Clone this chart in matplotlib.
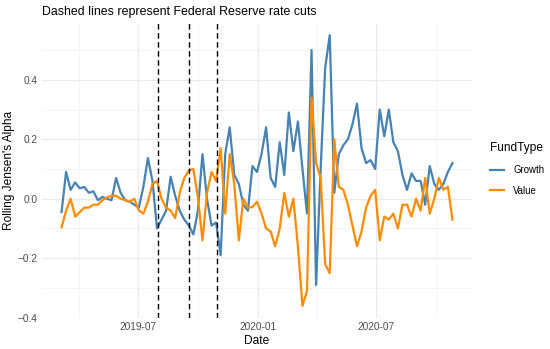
import matplotlib
matplotlib.use('Agg')
import matplotlib.pyplot as plt
import matplotlib.dates as mdates
import pandas as pd

plt.rcParams['font.family'] = ['Liberation Sans', 'DejaVu Sans']

# weekly observations of rolling Jensen's alpha
start_date = '2019-03-05'

growth = [
    -0.045, 0.09, 0.03, 0.055, 0.035, 0.04, 0.02, 0.025, -0.005, 0.006,
    0.0, -0.005, 0.07, 0.02, -0.005, -0.01, -0.02, -0.03, 0.04, 0.137,
    0.06, -0.10, -0.07, -0.04, 0.074, 0.01, -0.04, -0.07, -0.09, -0.12,
    -0.04, 0.15, 0.0, -0.09, -0.08, -0.19, 0.15, 0.24, 0.08, 0.05,
    -0.02, -0.04, 0.11, 0.09, 0.15, 0.24, 0.07, 0.04, 0.19, 0.08,
    0.29, 0.16, 0.26, 0.10, -0.05, 0.50, -0.29, 0.10, 0.44, 0.55,
    0.02, 0.15, 0.18, 0.20, 0.25, 0.32, 0.17, 0.12, 0.13, 0.10,
    0.30, 0.21, 0.30, 0.19, 0.16, 0.08, 0.03, 0.085, 0.06, 0.06,
    -0.02, 0.11, 0.05, 0.03, 0.05, 0.09, 0.12,
]

value = [
    -0.096, -0.04, 0.0, -0.06, -0.045, -0.03, -0.03, -0.02, -0.02, -0.005,
    0.005, 0.01, 0.01, 0.0, -0.005, -0.01, 0.0, -0.04, -0.05, -0.01,
    0.05, 0.06, 0.0, -0.03, -0.04, -0.065, 0.02, 0.07, 0.095, 0.10,
    0.006, -0.14, 0.02, 0.09, 0.06, 0.17, -0.05, 0.15, 0.05, -0.14,
    0.0, -0.03, -0.028, -0.01, -0.05, -0.10, -0.11, -0.16, -0.10, 0.02,
    -0.06, 0.0, -0.16, -0.36, -0.31, 0.34, 0.12, 0.07, -0.22, -0.25,
    0.20, 0.04, 0.03, -0.02, -0.09, -0.16, -0.11, -0.03, 0.01, 0.03,
    -0.14, -0.06, -0.07, -0.05, -0.10, -0.02, -0.02, -0.06, 0.0, -0.04,
    0.07, -0.05, 0.0, 0.07, 0.03, 0.04, -0.07,
]

rate_cuts = ['2019-07-31', '2019-09-18', '2019-10-30']

dates = pd.date_range(start_date, periods=len(growth), freq='W-TUE')

fig = plt.figure(figsize=(5.5, 3.49), dpi=100)
ax = fig.add_axes([42 / 550, 1 - 318 / 349, 430 / 550, 295 / 349])

ax.plot(dates, growth, color='#4682B4', lw=1.6, label='Growth')
ax.plot(dates, value, color='#FF8C00', lw=1.6, label='Value')
for d in rate_cuts:
    ax.axvline(pd.Timestamp(d), color='black', lw=1.0, linestyle=(0, (4, 2.5)))

ax.margins(x=0.05, y=0.045)

ax.xaxis.set_major_locator(mdates.MonthLocator(bymonth=[1, 7]))
ax.xaxis.set_minor_locator(mdates.MonthLocator(bymonth=[4, 10]))
ax.xaxis.set_major_formatter(mdates.DateFormatter('%Y-%m'))
ax.set_yticks([-0.4, -0.2, 0.0, 0.2, 0.4])
ax.set_yticks([-0.3, -0.1, 0.1, 0.3, 0.5], minor=True)
ax.set_yticklabels(['\u22120.4', '\u22120.2', '0.0', '0.2', '0.4'])

ax.grid(True, which='major', color='#EBEBEB', lw=0.9)
ax.grid(True, which='minor', color='#F3F3F3', lw=0.6)
ax.set_axisbelow(True)
for s in ax.spines.values():
    s.set_visible(False)
ax.tick_params(which='both', length=0, labelsize=7.3, colors='#4D4D4D', pad=3)

ax.set_xlabel('Date', fontsize=8.6, labelpad=2)
ax.set_ylabel("Rolling Jensen's Alpha", fontsize=8.6, labelpad=2)
ax.set_title('Dashed lines represent Federal Reserve rate cuts', fontsize=8.9,
             loc='left', pad=6)

leg = fig.legend(loc='center left', bbox_to_anchor=(490 / 550, 1 - 169 / 349),
                 frameon=False, title='FundType', fontsize=6.9,
                 title_fontsize=8.6, handlelength=1.5, handletextpad=0.9,
                 borderpad=0, borderaxespad=0, labelspacing=1.1,
                 alignment='left')

fig.savefig('out.png', dpi=100)
